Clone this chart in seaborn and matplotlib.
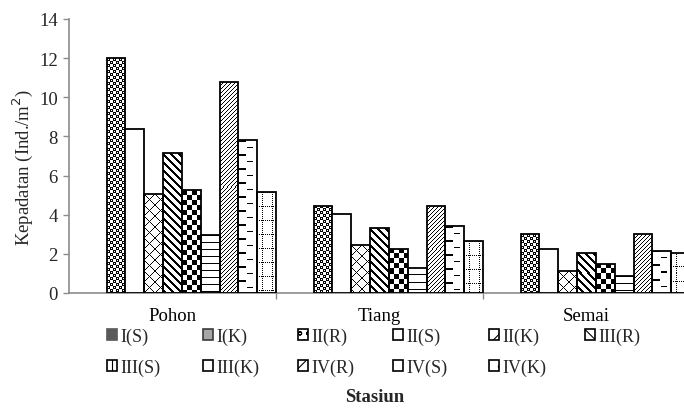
import numpy as np
import pandas as pd
import matplotlib
matplotlib.use("Agg")
import matplotlib.pyplot as plt
from matplotlib.patches import Patch
import seaborn as sns

# --- data -------------------------------------------------------------
categories = ["Pohon", "Tiang", "Semai"]
series = ["I(S)", "I(K)", "II(R)", "II(S)", "II(K)", "III(R)",
          "III(S)", "III(K)", "IV(R)", "IV(S)", "IV(K)"]
pohon = [0, 0, 12.0, 8.4, 5.05, 7.15, 5.25, 2.95, 10.8, 7.8, 5.15]
tiang = [0, 0, 4.45, 4.05, 2.45, 3.3, 2.25, 1.3, 4.45, 3.4, 2.65]
semai = [0, 0, 3.0, 2.25, 1.1, 2.05, 1.5, 0.85, 3.0, 2.15, 2.05]
y_ticks = [0, 2, 4, 6, 8, 10, 12, 14]

df = pd.DataFrame({
    "Stasiun": np.repeat(categories, len(series)),
    "Seri": series * len(categories),
    "Kepadatan": pohon + tiang + semai,
})

# --- pixel tiles used as fill patterns (1 = black) --------------------
def tile_dots():
    t = np.zeros((6, 6))
    t[0:3, 0:3] = 1
    t[3:6, 3:6] = 1
    t[1, 1] = 0
    t[4, 4] = 0
    return t

def tile_cross():
    n = 11
    t = np.zeros((n, n))
    for i in range(n):
        t[i, i] = 1
        t[i, n - 1 - i] = 1
    return t

def tile_thick_diag():
    n = 8
    i, j = np.indices((n, n))
    return (((i - j) % n) < 3).astype(float)

def tile_checker():
    n = 5
    i, j = np.indices((2 * n, 2 * n))
    return (((i // n) + (j // n)) % 2 == 0).astype(float)

def tile_hlines():
    t = np.zeros((7, 4))
    t[0, :] = 1
    return t

def tile_thin_diag():
    n = 4
    i, j = np.indices((n, n))
    return (((i + j) % n) == 0).astype(float)

def tile_dashes():
    t = np.zeros((14, 19))
    t[0:2, 0:8] = 1
    t[7:8, 9:15] = 1
    return t

def tile_dotgrid():
    t = np.zeros((14, 10))
    t[0, ::2] = 1
    t[::2, 5] = 1
    return t

tiles = {
    "II(R)": tile_dots(),
    "II(S)": None,
    "II(K)": tile_cross(),
    "III(R)": tile_thick_diag(),
    "III(S)": tile_checker(),
    "III(K)": tile_hlines(),
    "IV(R)": tile_thin_diag(),
    "IV(S)": tile_dashes(),
    "IV(K)": tile_dotgrid(),
}

legend_style = {
    "I(S)": dict(facecolor="#595959", edgecolor="#595959", hatch=None),
    "I(K)": dict(facecolor="#a6a6a6", edgecolor="#3a3a3a", hatch=None),
    "II(R)": dict(facecolor="white", edgecolor="black", hatch="oo"),
    "II(S)": dict(facecolor="white", edgecolor="black", hatch=None),
    "II(K)": dict(facecolor="white", edgecolor="black", hatch="/"),
    "III(R)": dict(facecolor="white", edgecolor="black", hatch="\\\\\\"),
    "III(S)": dict(facecolor="white", edgecolor="black", hatch="||"),
    "III(K)": dict(facecolor="white", edgecolor="black", hatch="-"),
    "IV(R)": dict(facecolor="white", edgecolor="black", hatch="//"),
    "IV(S)": dict(facecolor="white", edgecolor="black", hatch="-"),
    "IV(K)": dict(facecolor="white", edgecolor="black", hatch="."),
}

# --- figure -----------------------------------------------------------
sns.set_theme(style="white")
plt.rcParams["font.family"] = ["Liberation Serif", "DejaVu Serif"]
plt.rcParams["hatch.linewidth"] = 0.8

W, H = 684, 410
fig = plt.figure(figsize=(W / 100, H / 100), dpi=100)
ax = fig.add_axes([69 / W, 1 - 294 / H, 621 / W, 274 / H])

sns.barplot(data=df, x="Stasiun", y="Kepadatan", hue="Seri",
            order=categories, hue_order=series, width=1.0, gap=0,
            palette=["white"] * len(series), edgecolor="black",
            linewidth=1.3, saturation=1, legend=False, ax=ax)

ax.set_xlim(-0.5, 2.5)
ax.set_ylim(0, 14)
ax.set_yticks(y_ticks)
ax.set_yticklabels([str(v) for v in y_ticks], fontsize=13.5)
ax.set_xticks(range(len(categories)))
ax.set_xticklabels(categories, fontsize=13.5)
ax.set_xticks([0.5, 1.5], minor=True)
ax.tick_params(axis="x", which="major", length=0, pad=10, colors="black")
ax.tick_params(axis="x", which="minor", length=4, width=1, color="#8c8c8c",
               bottom=True)
ax.tick_params(axis="y", length=4, width=1, color="#8c8c8c", left=True,
               pad=4)
ax.set_xlabel("")
ax.set_ylabel("")
for side in ["top", "right"]:
    ax.spines[side].set_visible(False)
for side in ["left", "bottom"]:
    ax.spines[side].set_color("#8c8c8c")
    ax.spines[side].set_linewidth(1.2)

# fill each bar with its pixel pattern, clipped to the bar outline
to_px = ax.transData
for name, cont in zip(series, ax.containers):
    for bar in cont:
        h = bar.get_height()
        if h <= 0:
            bar.set_linewidth(0)
            continue
        bar.set_facecolor("none")
        bar.set_zorder(3)
        t = tiles[name]
        if t is None:
            bar.set_facecolor("white")
            continue
        x0, y0 = bar.get_x(), bar.get_y()
        w = bar.get_width()
        (px0, py0), (px1, py1) = to_px.transform([(x0, y0), (x0 + w, y0 + h)])
        nw = max(int(round(px1 - px0)), 1)
        nh = max(int(round(py1 - py0)), 1)
        reps = (nh // t.shape[0] + 2, nw // t.shape[1] + 2)
        arr = np.tile(t, reps)[:nh, :nw]
        im = ax.imshow(arr, cmap="gray_r", vmin=0, vmax=1, origin="upper",
                       extent=(x0, x0 + w, y0, y0 + h), aspect="auto",
                       interpolation="nearest", zorder=2)
        im.set_clip_path(bar)

ax.set_xlim(-0.5, 2.5)
ax.set_ylim(0, 14)
ax.set_aspect("auto")

# legend laid out as six columns of two rows
col_x = [107, 203, 298, 393, 489, 585]
for c in range(6):
    names = series[c::6]
    handles = [Patch(linewidth=1.2, **legend_style[n]) for n in names]
    fig.legend(handles, names, loc="upper left",
               bbox_to_anchor=(col_x[c] / W, 1 - 329 / H),
               bbox_transform=fig.transFigure, frameon=False, fontsize=13,
               handlelength=0.55, handleheight=0.55, handletextpad=0.2,
               labelspacing=0.72, borderpad=0, borderaxespad=0)

fig.text(375 / W, 1 - 398 / H, "Stasiun", ha="center", va="center",
         fontsize=13.5, fontweight="bold")
fig.text(23 / W, 1 - 167 / H, "Kepadatan (Ind./m$^2$)", ha="center",
         va="center", rotation=90, fontsize=13.5)

fig.savefig("out.png", dpi=100)
